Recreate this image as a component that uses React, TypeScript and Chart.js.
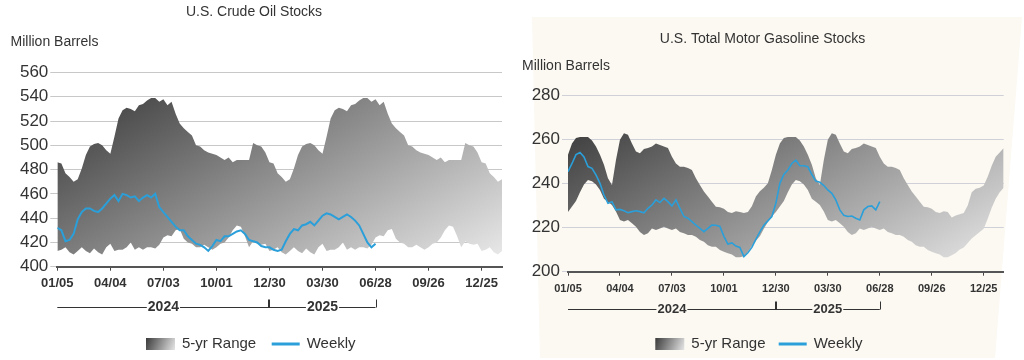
import React, { useEffect, useRef } from 'react';
import { Chart, registerables } from 'chart.js';

Chart.register(...registerables);

const FONT = '"Liberation Sans", Arial, Helvetica, sans-serif';

// ---------- data ----------
const WEEK_COUNT = 110; // weeks shown on the x axis (01/05/2024 .. early Jan 2026)
const WEEKS_PER_YEAR = 52;
const TICK_LABELS = ['01/05', '04/04', '07/03', '10/01', '12/30', '03/30', '06/28', '09/26', '12/25'];
const YEAR_LABELS = ['2024', '2025'];
const LEGEND_LABELS = ['5-yr Range', 'Weekly'];

// U.S. Crude Oil Stocks, 5-yr range by week of year (million barrels)
const CRUDE_UPPER = [
  486, 485, 477, 474, 470, 472, 481, 492, 499, 501, 502, 500, 496,
  493, 507, 522, 529, 531, 530, 528, 533, 534, 537, 539, 539, 536,
  538, 533, 536, 526, 518, 514, 511, 508, 500, 499, 496, 494, 493,
  492, 490, 488, 490, 486, 488, 488, 488, 488, 502, 500, 499, 494,
];
const CRUDE_LOWER = [
  413, 414, 416, 412, 410, 413, 416, 413, 411, 415, 412, 410, 416,
  419, 413, 414, 414, 416, 420, 414, 416, 414, 416, 416, 415, 418,
  424, 426, 425, 430, 431, 423, 420, 419, 416, 416, 418, 416, 414,
  416, 419, 420, 424, 430, 434, 433, 425, 416, 421, 419, 418, 419,
];
// Weekly crude stocks, 01/05/2024 .. 06/28/2025
const CRUDE_WEEKLY = [
  432, 430, 421, 422, 427, 439, 445, 448, 448, 446, 445, 448, 452,
  456, 459, 454, 460, 459, 457, 458, 454, 457, 459, 457, 460, 449,
  445, 441, 437, 433, 430, 430, 425, 422, 419, 418, 416, 413, 417,
  422, 421, 425, 425, 427, 429, 430, 427, 422, 421, 420, 417, 416,
  416, 414, 413, 414, 421, 427, 431, 430, 434, 435, 437, 434, 438,
  442, 444, 443, 441, 439, 441, 443, 441, 438, 434, 427, 420, 416, 419,
];

// U.S. Total Motor Gasoline Stocks, 5-yr range by week of year
const GAS_UPPER = [
  253, 258, 260.5, 261, 261, 261, 259.4, 256.7, 253, 248.4, 242.3, 239.3, 250.6,
  259.7, 262.7, 262, 258, 254.4, 253.6, 255.5, 256, 256.7, 258, 257.4, 256.7, 256,
  252, 249, 247.5, 247.5, 247, 246, 242.3, 239.3, 236.3, 234, 231.7, 229.4, 229.2,
  228.5, 227, 226.6, 227.4, 227, 226.6, 227, 229.6, 234, 236.4, 238, 240, 246,
];
const GAS_LOWER = [
  227, 229.5, 232, 236, 239.5, 241.5, 241, 239.5, 237, 233, 231.7, 230.2, 227.2,
  223.4, 222.7, 223.4, 221.9, 220.4, 218, 216.6, 217.4, 219.6, 218.9, 219.6, 220.4, 219.6,
  218.9, 219.6, 218, 217.4, 216.6, 216.6, 215.8, 214.3, 213.6, 212, 211.3, 211.3, 209.8,
  209, 208.3, 207.8, 206.5, 206.5, 207, 209, 211.6, 214, 216, 219.5, 222.5, 225,
];
// last weeks of the axis (week 96 .. 109), read separately
const GAS_TAIL_START = 96;
const GAS_UPPER_TAIL = [224.5, 225.5, 226, 226.6, 230, 236, 237.5, 238, 239, 243, 248, 252, 254, 256];
const GAS_LOWER_TAIL = [207.5, 208.5, 210, 211, 213, 215, 216.5, 218, 219.5, 224, 229, 233, 236, 238];

const GAS_WEEKLY = [
  245.3, 249, 253, 254, 252, 247.6, 246.8, 243.8, 240, 234.7, 231, 231.7, 228,
  228.2, 227.6, 226.7, 227.2, 227.6, 227.2, 226.7, 228.7, 230.2, 232.5, 231.3, 233.2, 231.7,
  229.8, 232.5, 228.7, 225, 224.2, 222.7, 221.1, 219.6, 218.1, 219.6, 221.1, 221, 220.5,
  216, 212.5, 213, 211.6, 211, 206.8, 208.6, 211, 214.6, 218, 221, 223, 225,
  231, 240, 244, 246, 249, 250.5, 248, 248, 247.5, 244, 241, 240.5, 239,
  237, 235.5, 232.5, 228, 225.5, 225, 225.2, 224.2, 223.4, 228, 229.5, 229.8, 228, 231.7,
];

// ---------- helpers ----------
function rangeSeries(values: number[], tail?: number[], tailStart?: number) {
  const out: { x: number; y: number }[] = [];
  for (let i = 0; i < WEEK_COUNT; i++) {
    const v = tail && tailStart !== undefined && i >= tailStart ? tail[i - tailStart] : values[i % WEEKS_PER_YEAR];
    out.push({ x: i, y: v });
  }
  return out;
}
function lineSeries(values: number[]) {
  return values.map((v, i) => ({ x: i, y: v }));
}

function bandGradient(chart: any) {
  const a = chart.chartArea;
  if (!a) return '#888';
  const w = a.right - a.left;
  const h = a.bottom - a.top;
  const dx = 0.5, dy = 0.87;
  const k = w * dx + h * dy;
  const g = chart.ctx.createLinearGradient(a.left, a.top, a.left + dx * k, a.top + dy * k);
  g.addColorStop(0, '#2e2e2e');
  g.addColorStop(0.5, '#8e8e8e');
  g.addColorStop(1, '#eeeeee');
  return g;
}

const decorPlugin = {
  id: 'decor',
  afterDraw(chart: any, _args: any, o: any) {
    const ctx = chart.ctx;
    const xs = chart.scales.x;
    ctx.save();
    ctx.fillStyle = '#333';
    ctx.textBaseline = 'middle';

    // title
    ctx.font = `14px ${FONT}`;
    ctx.textAlign = 'center';
    ctx.fillText(o.title, o.titleX, o.titleY);
    // unit label
    ctx.textAlign = 'left';
    ctx.fillText(o.unit, o.unitX, o.unitY);

    // year axis
    const x0 = xs.getPixelForValue(0);
    const xm = xs.getPixelForValue(WEEKS_PER_YEAR);
    const x1 = xs.getPixelForValue(o.lastWeek);
    const y = o.yearY;
    ctx.font = `bold ${o.yearFont}px ${FONT}`;
    const c1 = (x0 + xm) / 2;
    const c2 = (xm + x1) / 2;
    const w1 = ctx.measureText(YEAR_LABELS[0]).width / 2 + 1;
    const w2 = ctx.measureText(YEAR_LABELS[1]).width / 2 + 1;
    ctx.strokeStyle = '#333';
    ctx.lineWidth = 1;
    ctx.beginPath();
    const yy = Math.round(y) + 0.5;
    ctx.moveTo(x0, yy); ctx.lineTo(c1 - w1, yy);
    ctx.moveTo(c1 + w1, yy); ctx.lineTo(c2 - w2, yy);
    ctx.moveTo(c2 + w2, yy); ctx.lineTo(x1, yy);
    ctx.moveTo(Math.round(x1) + 0.5, yy); ctx.lineTo(Math.round(x1) + 0.5, yy - 8);
    ctx.stroke();
    ctx.lineWidth = 2;
    ctx.beginPath();
    ctx.moveTo(Math.round(xm), yy + 0.5); ctx.lineTo(Math.round(xm), yy - 8);
    ctx.stroke();
    ctx.textAlign = 'center';
    ctx.fillText(YEAR_LABELS[0], c1, y);
    ctx.fillText(YEAR_LABELS[1], c2, y);

    // legend
    const ly = o.legendY;
    const sg = ctx.createLinearGradient(o.swatchX, ly - 6, o.swatchX + 29, ly + 6);
    sg.addColorStop(0, '#3a3a3a');
    sg.addColorStop(1, '#e6e6e6');
    ctx.fillStyle = sg;
    ctx.fillRect(o.swatchX, ly - 6, 29, 12);
    ctx.fillStyle = '#333';
    ctx.font = `15px ${FONT}`;
    ctx.textAlign = 'left';
    ctx.fillText(LEGEND_LABELS[0], o.swatchX + 36, ly);
    ctx.strokeStyle = '#2a9fd9';
    ctx.lineWidth = 3;
    ctx.beginPath();
    ctx.moveTo(o.lineX, ly); ctx.lineTo(o.lineX + 28, ly);
    ctx.stroke();
    ctx.fillText(LEGEND_LABELS[1], o.lineX + 35, ly);
    ctx.restore();
  },
};

function makeConfig(p: any): any {
  return {
    type: 'line',
    data: {
      datasets: [
        {
          label: LEGEND_LABELS[1],
          data: lineSeries(p.weekly),
          borderColor: '#2a9fd9',
          borderWidth: p.lineWidth,
          pointRadius: 0,
          fill: false,
          tension: 0,
        },
        {
          label: LEGEND_LABELS[0],
          data: rangeSeries(p.upper, p.upperTail, p.tailStart),
          borderWidth: 0,
          pointRadius: 0,
          backgroundColor: (c: any) => bandGradient(c.chart),
          fill: '+1',
          tension: 0,
        },
        {
          label: 'lower',
          data: rangeSeries(p.lower, p.lowerTail, p.tailStart),
          borderWidth: 0,
          pointRadius: 0,
          fill: false,
          tension: 0,
        },
      ],
    },
    options: {
      animation: false,
      responsive: false,
      devicePixelRatio: 1,
      layout: { padding: { left: 0, top: p.top, right: p.padRight, bottom: 360 - p.bottom - 40 } },
      plugins: {
        legend: { display: false },
        tooltip: { enabled: false },
        decor: p.decor,
      },
      scales: {
        x: {
          type: 'linear',
          min: 0,
          max: WEEK_COUNT - 1,
          afterBuildTicks: (s: any) => {
            s.ticks = TICK_LABELS.map((_l, i) => ({ value: i * 13 }));
          },
          afterFit: (s: any) => { s.height = 40; },
          ticks: {
            stepSize: 13,
            autoSkip: false,
            maxRotation: 0,
            color: '#333',
            padding: p.xPad,
            font: { size: p.xFont, weight: 'bold', family: FONT },
            callback: (v: number) => TICK_LABELS[Math.round(v / 13)] ?? '',
          },
          grid: { drawOnChartArea: false, drawTicks: true, tickLength: 4, color: '#444' },
          border: { display: true, color: '#555', width: 2 },
        },
        y: {
          min: p.yMin,
          max: p.yMax,
          afterFit: (s: any) => { s.width = p.yWidth; },
          ticks: { stepSize: 20, color: '#333', padding: 2, font: { size: 17, family: FONT } },
          grid: { color: p.gridColor, tickLength: p.yTick, drawTicks: true },
          border: { display: false },
        },
      },
    },
    plugins: [decorPlugin],
  };
}

const CRUDE_PANEL = {
  weekly: CRUDE_WEEKLY, upper: CRUDE_UPPER, lower: CRUDE_LOWER,
  yMin: 400, yMax: 560, top: 72.5, bottom: 266.7, padRight: 10, yWidth: 57.3, yTick: 7,
  xFont: 13, xPad: 5, lineWidth: 2, gridColor: '#c8c8c8',
  decor: {
    title: 'U.S. Crude Oil Stocks', titleX: 254, titleY: 12.5,
    unit: 'Million Barrels', unitX: 10.5, unitY: 42,
    yearY: 306.7, yearFont: 14, lastWeek: 78,
    legendY: 344, swatchX: 146, lineX: 271.7,
  },
};

const GAS_PANEL = {
  weekly: GAS_WEEKLY, upper: GAS_UPPER, lower: GAS_LOWER,
  upperTail: GAS_UPPER_TAIL, lowerTail: GAS_LOWER_TAIL, tailStart: GAS_TAIL_START,
  yMin: 200, yMax: 280, top: 95, bottom: 271.7, padRight: 20.3, yWidth: 56, yTick: 6,
  xFont: 11, xPad: 6.5, lineWidth: 1.6, gridColor: '#cfd0d8',
  decor: {
    title: 'U.S. Total Motor Gasoline Stocks', titleX: 250.5, titleY: 39.3,
    unit: 'Million Barrels', unitX: 10, unitY: 65.7,
    yearY: 309.3, yearFont: 13, lastWeek: 78,
    legendY: 344, swatchX: 143.3, lineX: 266.7,
  },
};

function Panel({ spec, left }: { spec: any; left: number }) {
  const ref = useRef<HTMLCanvasElement | null>(null);
  useEffect(() => {
    if (!ref.current) return;
    const chart = new Chart(ref.current, makeConfig(spec));
    return () => chart.destroy();
  }, [spec]);
  return (
    <canvas
      ref={ref}
      width={512}
      height={360}
      style={{ position: 'absolute', left, top: 0, width: 512, height: 360, display: 'block' }}
    />
  );
}

export default function App() {
  return (
    <div style={{ position: 'absolute', left: 0, top: 0, width: 1024, height: 360, background: '#fff', overflow: 'hidden' }}>
      <div
        style={{
          position: 'absolute', left: 0, top: 0, width: 1024, height: 360, background: '#fcf9f2',
          clipPath: 'polygon(532px 17px, 1022px 17px, 995px 358px, 540px 358px)',
        }}
      />
      <Panel spec={CRUDE_PANEL} left={0} />
      <Panel spec={GAS_PANEL} left={512} />
    </div>
  );
}
